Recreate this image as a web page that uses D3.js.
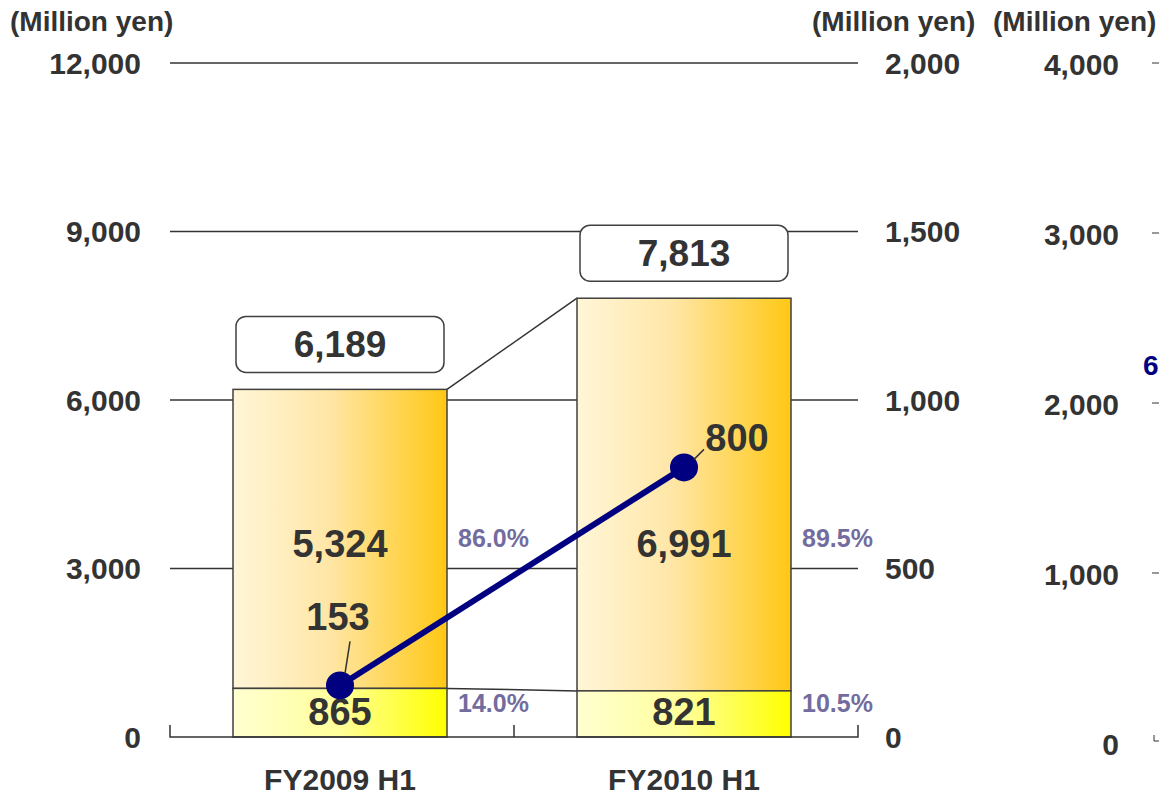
<!DOCTYPE html>
<html><head><meta charset="utf-8">
<script src="https://cdn.jsdelivr.net/npm/d3@7"></script>
<style>body{margin:0;background:#fff;overflow:hidden}svg{display:block;font-family:"Liberation Sans",Arial,sans-serif}</style>
</head><body>
<script>
const categories = ["FY2009 H1", "FY2010 H1"];
const upperValues = [5324, 6991];
const lowerValues = [865, 821];
const totals = [6189, 7813];
const upperShare = ["86.0%", "89.5%"];
const lowerShare = ["14.0%", "10.5%"];
const lineValues = [153, 800];
const leftTicks = [0, 3000, 6000, 9000, 12000];
const rightTicks = [0, 500, 1000, 1500, 2000];
const farTicks = [0, 1000, 2000, 3000, 4000];
const unitLabel = "(Million yen)";

const W = 1159, H = 798;
const svg = d3.select("body").append("svg").attr("width", W).attr("height", H);
const defs = svg.append("defs");
const gU = defs.append("linearGradient").attr("id", "gU");
gU.append("stop").attr("offset", "0%").attr("stop-color", "#fff6d8");
gU.append("stop").attr("offset", "45%").attr("stop-color", "#ffe6a6");
gU.append("stop").attr("offset", "100%").attr("stop-color", "#ffc815");
const gL = defs.append("linearGradient").attr("id", "gL");
gL.append("stop").attr("offset", "0%").attr("stop-color", "#ffffd2");
gL.append("stop").attr("offset", "50%").attr("stop-color", "#ffff99");
gL.append("stop").attr("offset", "100%").attr("stop-color", "#ffff00");

const x0 = 170, x1 = 858;
const x = d3.scaleBand().domain(categories).range([x0, x1]).paddingInner(0).paddingOuter(0);
const barW = 214;
const yL = d3.scaleLinear().domain([0, 12000]).range([737, 63]);
const yR = d3.scaleLinear().domain([0, 2000]).range([737, 63]);
const yF = d3.scaleLinear().domain([0, 4000]).range([744, 64]);
const fmt = d3.format(",");
const dark = "#333333";
const tickFS = 30, bigFS = 38;

// gridlines
svg.append("g").selectAll("line").data(leftTicks.slice(1)).join("line")
  .attr("x1", x0).attr("x2", x1).attr("y1", d => yL(d)).attr("y2", d => yL(d))
  .attr("stroke", dark).attr("stroke-width", 1.5);

// left tick labels
svg.append("g").selectAll("text").data(leftTicks).join("text")
  .attr("x", 141).attr("y", d => yL(d) + 10.5).attr("text-anchor", "end")
  .attr("font-size", tickFS).attr("font-weight", "bold").attr("fill", dark).text(d => fmt(d));
// right tick labels
svg.append("g").selectAll("text").data(rightTicks).join("text")
  .attr("x", 885).attr("y", d => yR(d) + 10.5).attr("text-anchor", "start")
  .attr("font-size", tickFS).attr("font-weight", "bold").attr("fill", dark).text(d => fmt(d));
// far axis labels and ticks
svg.append("g").selectAll("text").data(farTicks).join("text")
  .attr("x", 1119).attr("y", d => yF(d) + 10.5).attr("text-anchor", "end")
  .attr("font-size", tickFS).attr("font-weight", "bold").attr("fill", dark).text(d => fmt(d));
svg.append("g").selectAll("line").data(farTicks.slice(1)).join("line")
  .attr("x1", 1152).attr("x2", 1160).attr("y1", d => yF(d) - 1).attr("y2", d => yF(d) - 1)
  .attr("stroke", dark).attr("stroke-width", 1);
svg.append("path").attr("d", `M1154,${yF(0) - 9}V${yF(0) - 3}H1160`).attr("fill", "none").attr("stroke", dark).attr("stroke-width", 1);
svg.append("text").attr("x", 1143).attr("y", 375).attr("font-size", 28).attr("font-weight", "bold").attr("fill", "#000080").text("6");

// unit labels
[10, 812, 993].forEach(px => svg.append("text").attr("x", px).attr("y", 31).attr("font-size", 28)
  .attr("font-weight", "bold").attr("fill", dark).text(unitLabel));

// connector lines
const bx = (c) => x(c) + (x.bandwidth() - barW) / 2 - 2;
svg.append("line").attr("x1", bx(categories[0]) + barW).attr("y1", yL(totals[0]))
  .attr("x2", bx(categories[1])).attr("y2", yL(totals[1])).attr("stroke", dark).attr("stroke-width", 1.5);
svg.append("line").attr("x1", bx(categories[0]) + barW).attr("y1", yL(lowerValues[0]))
  .attr("x2", bx(categories[1])).attr("y2", yL(lowerValues[1])).attr("stroke", dark).attr("stroke-width", 1.5);

// bars
const bars = svg.append("g");
categories.forEach((c, i) => {
  bars.append("rect").attr("x", bx(c)).attr("width", barW)
    .attr("y", yL(lowerValues[i] + upperValues[i])).attr("height", yL(lowerValues[i]) - yL(lowerValues[i] + upperValues[i]))
    .attr("fill", "url(#gU)").attr("stroke", "#404040").attr("stroke-width", 1.5);
  bars.append("rect").attr("x", bx(c)).attr("width", barW)
    .attr("y", yL(lowerValues[i])).attr("height", yL(0) - yL(lowerValues[i]))
    .attr("fill", "url(#gL)").attr("stroke", "#404040").attr("stroke-width", 1.5);
  const cx = bx(c) + barW / 2;
  bars.append("text").attr("x", cx).attr("y", yL(0) - 12).attr("text-anchor", "middle")
    .attr("font-size", bigFS).attr("font-weight", "bold").attr("fill", dark).text(fmt(lowerValues[i]));
  bars.append("text").attr("x", cx).attr("y", yL(3500) + 17).attr("text-anchor", "middle")
    .attr("font-size", bigFS).attr("font-weight", "bold").attr("fill", dark).text(fmt(upperValues[i]));
  // share labels
  bars.append("text").attr("x", bx(c) + barW + 11).attr("y", yL(3500) + 7).attr("font-size", 25)
    .attr("font-weight", "bold").attr("fill", "#736c9e").text(upperShare[i]);
  bars.append("text").attr("x", bx(c) + barW + 11).attr("y", yL(0) - 25).attr("font-size", 25)
    .attr("font-weight", "bold").attr("fill", "#736c9e").text(lowerShare[i]);
  // total boxes
  const top = yL(totals[i]);
  bars.append("rect").attr("x", cx - 104).attr("y", top - 73).attr("width", 208).attr("height", 56)
    .attr("rx", 10).attr("fill", "#fff").attr("stroke", "#404040").attr("stroke-width", 1.5);
  bars.append("text").attr("x", cx).attr("y", top - 32).attr("text-anchor", "middle")
    .attr("font-size", 37).attr("font-weight", "bold").attr("fill", dark).text(fmt(totals[i]));
});

// bottom axis
svg.append("path").attr("d", `M${x0},${yL(0) - 12}V${yL(0)}H${x1}V${yL(0) - 12}`).attr("fill", "none").attr("stroke", dark).attr("stroke-width", 1.5);
svg.append("line").attr("x1", x(categories[1])).attr("x2", x(categories[1])).attr("y1", yL(0) - 12).attr("y2", yL(0)).attr("stroke", dark).attr("stroke-width", 1.5);
svg.append("g").selectAll("text").data(categories).join("text")
  .attr("x", d => bx(d) + barW / 2).attr("y", 790).attr("text-anchor", "middle")
  .attr("font-size", 30).attr("font-weight", "bold").attr("fill", dark).text(d => d);

// line series
const pts = categories.map((c, i) => [bx(c) + barW / 2, yR(lineValues[i])]);
svg.append("path").attr("d", d3.line()(pts)).attr("fill", "none").attr("stroke", "#000080").attr("stroke-width", 6);
svg.append("g").selectAll("circle").data(pts).join("circle")
  .attr("cx", d => d[0]).attr("cy", d => d[1]).attr("r", 14).attr("fill", "#000080");
// line labels with leaders
svg.append("line").attr("x1", pts[0][0] + 5).attr("y1", pts[0][1] - 12).attr("x2", pts[0][0] + 10).attr("y2", pts[0][1] - 44).attr("stroke", dark).attr("stroke-width", 1.5);
svg.append("text").attr("x", pts[0][0] - 2).attr("y", pts[0][1] - 55).attr("text-anchor", "middle")
  .attr("font-size", bigFS).attr("font-weight", "bold").attr("fill", dark).text(fmt(lineValues[0]));
svg.append("line").attr("x1", pts[1][0] + 10).attr("y1", pts[1][1] - 8).attr("x2", pts[1][0] + 20).attr("y2", pts[1][1] - 18).attr("stroke", dark).attr("stroke-width", 1.5);
svg.append("text").attr("x", pts[1][0] + 53).attr("y", pts[1][1] - 16).attr("text-anchor", "middle")
  .attr("font-size", bigFS).attr("font-weight", "bold").attr("fill", dark).text(fmt(lineValues[1]));
</script>
</body></html>
